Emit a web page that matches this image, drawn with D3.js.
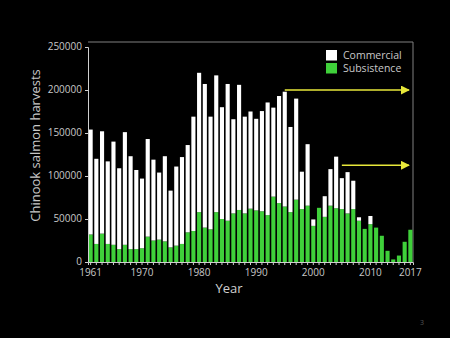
<!DOCTYPE html>
<html>
<head>
<meta charset="utf-8">
<script src="https://cdn.jsdelivr.net/npm/d3@7"></script>
<style>
	body { margin: 0; background: #000; }
	svg { display: block; font-family: "Open Sans", sans-serif; }
</style>
</head>
<body>
<svg id="chart" width="450" height="338"></svg>
<script>
const years = d3.range(1961, 2018);
const subsistence = [
	32000, 21000, 33000, 21000, 20000, 15000, 20000, 15000, 15000, 16000,
	29500, 25000, 26000, 24000, 17000, 19000, 21000, 34500, 36000, 58000,
	40000, 38000, 58000, 50000, 48000, 56500, 60500, 56500, 62000, 60000,
	59000, 54500, 76000, 68500, 64500, 58000, 72500, 61500, 65500, 42000,
	63000, 52500, 65500, 62500, 61500, 56500, 61500, 48000, 38500, 44000,
	40000, 30500, 13000, 3000, 7500, 23500, 37500
];
const commercial = [
	122000, 99000, 119000, 96000, 120000, 94000, 131000, 108000, 92000, 81000,
	113500, 94000, 78000, 99000, 66000, 92000, 101000, 101500, 133000, 162000,
	167000, 131000, 159000, 130000, 159000, 109500, 145500, 112500, 113000, 106500,
	116500, 131000, 103500, 124500, 133500, 99000, 117500, 43500, 71500, 7500,
	0, 24000, 42500, 60000, 36000, 48000, 33000, 4000, 0, 9500,
	0, 0, 0, 0, 0, 0, 0
];
const yTicks = [0, 50000, 100000, 150000, 200000, 250000];
const xLabels = [1961, 1970, 1980, 1990, 2000, 2010, 2017];
const legendItems = ['Commercial', 'Subsistence'];
// yellow arrows: [start year, level]
const arrows = [[1995, 200000], [2005, 112500]];

const rows = years.map((y, i) => ({year: y, sub: subsistence[i], com: commercial[i]}));

const svg = d3.select('#chart');
const M = {left: 88, right: 413, top: 47, bottom: 262};

const x = d3.scaleBand().domain(years).range([M.left, M.right]).paddingInner(0.28).paddingOuter(0.1);
const y = d3.scaleLinear().domain([0, 250000]).range([M.bottom, M.top]);

const colors = {com: '#ffffff', sub: '#3fd03a'};

// frame
svg.append('path')
	.attr('d', `M${M.left},${M.top - 5}H${M.right}V${M.bottom}`)
	.attr('fill', 'none')
	.attr('stroke', '#808080')
	.attr('stroke-width', 1);

// bars
const g = svg.append('g');
g.selectAll('rect.sub')
	.data(rows)
	.join('rect')
	.attr('class', 'sub')
	.attr('x', d => x(d.year))
	.attr('width', x.bandwidth())
	.attr('y', d => y(d.sub))
	.attr('height', d => y(0) - y(d.sub))
	.attr('fill', colors.sub);
g.selectAll('rect.com')
	.data(rows.filter(d => d.com > 0))
	.join('rect')
	.attr('class', 'com')
	.attr('x', d => x(d.year))
	.attr('width', x.bandwidth())
	.attr('y', d => y(d.sub + d.com))
	.attr('height', d => y(d.sub) - y(d.sub + d.com))
	.attr('fill', colors.com);

// y axis
const yAxis = svg.append('g')
	.attr('transform', `translate(${M.left},0)`)
	.call(d3.axisLeft(y).tickValues(yTicks).tickSize(3).tickPadding(3).tickFormat(d3.format('d')));
yAxis.select('.domain').attr('stroke', '#d0d0d0');
yAxis.selectAll('.tick line').attr('stroke', '#d0d0d0');
yAxis.selectAll('.tick text').attr('fill', '#c8c8c8').attr('font-size', 10)
	.attr('font-family', '"Open Sans", sans-serif').attr('dy', '0.2em');

// x axis, a small tick per year
const xAxis = svg.append('g')
	.attr('transform', `translate(0,${M.bottom})`)
	.call(d3.axisBottom(x).tickValues(years).tickSize(3).tickPadding(4)
		.tickFormat(d => xLabels.includes(d) ? d : ''));
xAxis.select('.domain').attr('stroke', '#d0d0d0');
xAxis.selectAll('.tick line').attr('stroke', '#d0d0d0');
xAxis.selectAll('.tick text').attr('fill', '#c8c8c8').attr('font-size', 10).attr('font-family', '"Open Sans", sans-serif');

// axis titles
svg.append('text')
	.attr('transform', `translate(40,${(M.top + M.bottom) / 2 - 9}) rotate(-90)`)
	.attr('text-anchor', 'middle')
	.attr('fill', '#c8c8c8')
	.attr('font-size', 13)
	.text('Chinook salmon harvests');
svg.append('text')
	.attr('x', 229)
	.attr('y', 293)
	.attr('text-anchor', 'middle')
	.attr('fill', '#d0d0d0')
	.attr('font-size', 13)
	.text('Year');

// legend
const legend = svg.append('g').attr('transform', 'translate(326,50)');
legendItems.forEach((name, i) => {
	legend.append('rect')
		.attr('x', 0)
		.attr('y', i * 13)
		.attr('width', 11)
		.attr('height', 10.5)
		.attr('fill', i === 0 ? colors.com : colors.sub);
	legend.append('text')
		.attr('x', 17)
		.attr('y', i * 13 + 9)
		.attr('fill', '#c8c8c8')
		.attr('font-size', 10.5)
		.text(name);
});

// arrows
svg.append('defs').append('marker')
	.attr('id', 'head')
	.attr('viewBox', '0 0 10 10')
	.attr('refX', 9).attr('refY', 5)
	.attr('markerWidth', 6).attr('markerHeight', 6)
	.attr('orient', 'auto')
	.append('path')
	.attr('d', 'M0,0L10,5L0,10z')
	.attr('fill', '#e8e83a');
arrows.forEach(([yr, lvl]) => {
	svg.append('line')
		.attr('x1', x(yr) + x.bandwidth() / 2)
		.attr('x2', M.right - 4)
		.attr('y1', y(lvl))
		.attr('y2', y(lvl))
		.attr('stroke', '#e8e83a')
		.attr('stroke-width', 1.5)
		.attr('marker-end', 'url(#head)');
});

// slide number
svg.append('text')
	.attr('x', 420)
	.attr('y', 325)
	.attr('fill', '#555')
	.attr('font-size', 7)
	.text('3');
</script>
</body>
</html>
